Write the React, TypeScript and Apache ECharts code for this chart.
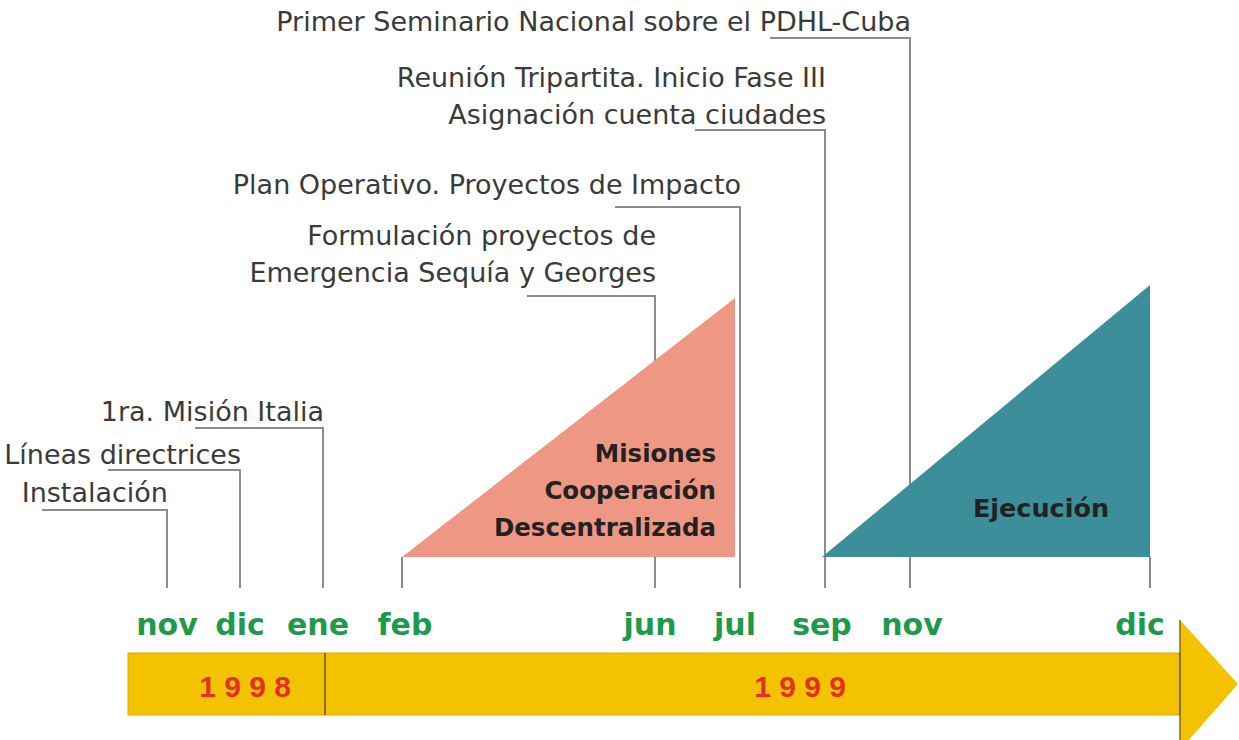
import React, { useEffect, useRef } from "react";
import * as echarts from "echarts";

// ---- timeline months (position on the schematic time scale) ----
const monthLabels = ["nov", "dic", "ene", "feb", "jun", "jul", "sep", "nov", "dic"];
const monthPos = [167, 240, 323, 402, 655, 740, 825, 910, 1150];
const monthLabelPos = [167, 240, 318, 405, 650, 735, 822, 912, 1140];
const monthLabelY = 624;
const tickBottom = 588;

// ---- years band ----
const yearLabels = ["1 9 9 8", "1 9 9 9"];
const yearStart = [128, 325];
const yearEnd = [325, 1180];
const yearLabelPos = [245, 800];
const yearLabelY = 686;
const barTop = 653;
const barBottom = 715;
const arrowBase = [1180];
const arrowTop = 620;
const arrowBottom = 750;
const arrowTipX = 1238;
const arrowTipY = 684;

// ---- events (leader lines) ----
const eventTexts = [
  "Instalación",
  "Líneas directrices",
  "1ra. Misión Italia",
  "Formulación proyectos de\nEmergencia Sequía y Georges",
  "Plan Operativo. Proyectos de Impacto",
  "Reunión Tripartita. Inicio Fase III\nAsignación cuenta ciudades",
  "Primer Seminario Nacional sobre el PDHL-Cuba",
];
const eventMonthIdx = [0, 1, 2, 4, 5, 6, 7];
const eventLevel = [510, 470, 428, 296, 207, 130, 38];
const eventUnderlineStart = [42, 108, 195, 527, 615, 695, 770];
const eventTextY = [493, 455, 412, 273, 185, 115, 22];

// ---- phases (triangles) ----
const phaseTexts = ["Misiones\nCooperación\nDescentralizada", "Ejecución"];
const phaseStart = [402, 822];
const phaseEnd = [735, 1150];
const phaseTop = [298, 285];
const phaseBase = 557;
const phaseTextX = [716, 1041];
const phaseTextY = [490, 508];
const phaseTextSize = [24.5, 25.5];
const phaseTextAlign = ["right", "center"];
const phaseColors = ["#EE9784", "#3D8E9B"];

const LINE = "#8c8c8c";
const FONT = '"DejaVu Sans", sans-serif';

export default function App() {
  const ref = useRef<HTMLDivElement>(null);

  useEffect(() => {
    document.body.style.margin = "0";
    if (!ref.current) return;
    const chart = echarts.init(ref.current, undefined, { renderer: "svg" });

    const tickTops = monthPos.map((_, i) => {
      const e = eventMonthIdx.indexOf(i);
      return e >= 0 ? eventLevel[e] : phaseBase;
    });

    const option: any = {
      animation: false,
      backgroundColor: "#ffffff",
      grid: { left: 0, right: 0, top: 0, bottom: 0 },
      xAxis: { type: "value", min: 0, max: 1239, show: false },
      yAxis: { type: "value", min: 0, max: 740, inverse: true, show: false },
      series: [
        // month tick / leader lines
        {
          type: "custom",
          clip: false,
          z: 1,
          data: monthPos.map((x, i) => [x, tickTops[i]]),
          renderItem: (params: any, api: any) => {
            const i = params.dataIndex;
            const x = monthPos[i];
            const e = eventMonthIdx.indexOf(i);
            const pts: number[][] = [];
            if (e >= 0) pts.push(api.coord([eventUnderlineStart[e], eventLevel[e]]));
            pts.push(api.coord([x, tickTops[i]]));
            pts.push(api.coord([x, tickBottom]));
            return {
              type: "polyline",
              shape: { points: pts },
              style: { stroke: LINE, lineWidth: 2, fill: null },
            };
          },
        },
        // phases triangles
        {
          type: "custom",
          clip: false,
          z: 2,
          data: phaseStart.map((s, i) => [s, phaseTop[i]]),
          renderItem: (params: any, api: any) => {
            const i = params.dataIndex;
            const a = api.coord([phaseStart[i], phaseBase]);
            const b = api.coord([phaseEnd[i], phaseTop[i]]);
            const c = api.coord([phaseEnd[i], phaseBase]);
            const t = api.coord([phaseTextX[i], phaseTextY[i]]);
            return {
              type: "group",
              children: [
                {
                  type: "polygon",
                  shape: { points: [a, b, c] },
                  style: { fill: phaseColors[i] },
                },
                {
                  type: "text",
                  x: t[0],
                  y: t[1],
                  style: {
                    text: phaseTexts[i],
                    fill: "#222222",
                    fontFamily: FONT,
                    fontWeight: "bold",
                    fontSize: phaseTextSize[i],
                    lineHeight: 37,
                    align: phaseTextAlign[i],
                    verticalAlign: "middle",
                  },
                },
              ],
            };
          },
        },
        // event labels
        {
          type: "custom",
          clip: false,
          z: 3,
          data: eventTexts.map((_, i) => [monthPos[eventMonthIdx[i]], eventTextY[i]]),
          renderItem: (params: any, api: any) => {
            const i = params.dataIndex;
            const p = api.coord([monthPos[eventMonthIdx[i]] + 1, eventTextY[i] + 18]);
            return {
              type: "text",
              x: p[0],
              y: p[1],
              style: {
                text: eventTexts[i],
                fill: "#3a3a3a",
                fontFamily: FONT,
                fontSize: 27,
                lineHeight: 37,
                align: "right",
                verticalAlign: "bottom",
              },
            };
          },
        },
        // year band
        {
          type: "custom",
          clip: false,
          z: 1,
          data: yearStart.map((s, i) => [s, yearEnd[i]]),
          renderItem: (params: any, api: any) => {
            const i = params.dataIndex;
            const tl = api.coord([yearStart[i], barTop]);
            const br = api.coord([yearEnd[i], barBottom]);
            return {
              type: "rect",
              shape: { x: tl[0], y: tl[1], width: br[0] - tl[0], height: br[1] - tl[1] },
              style: { fill: "#F4C300", stroke: "#D9AA00", lineWidth: 1 },
            };
          },
        },
        // year dividers and labels
        {
          type: "custom",
          clip: false,
          z: 3,
          data: yearStart.map((s, i) => [yearLabelPos[i], yearLabelY]),
          renderItem: (params: any, api: any) => {
            const i = params.dataIndex;
            const tl = api.coord([yearStart[i], barTop]);
            const br = api.coord([yearEnd[i], barBottom]);
            const lbl = api.coord([yearLabelPos[i], yearLabelY]);
            return {
              type: "group",
              children: [
                {
                  type: "line",
                  shape: { x1: br[0], y1: tl[1], x2: br[0], y2: br[1] },
                  style: { stroke: "#8B6A14", lineWidth: 2 },
                },
                {
                  type: "text",
                  x: lbl[0],
                  y: lbl[1],
                  style: {
                    text: yearLabels[i],
                    fill: "#E5302A",
                    fontFamily: '"Liberation Sans", sans-serif',
                    fontWeight: "bold",
                    fontSize: 30,
                    align: "center",
                    verticalAlign: "middle",
                  },
                },
              ],
            };
          },
        },
        // arrow head
        {
          type: "custom",
          clip: false,
          z: 2,
          data: arrowBase.map((x) => [x, arrowTipY]),
          renderItem: (params: any, api: any) => {
            const x = arrowBase[params.dataIndex];
            const a = api.coord([x, arrowTop]);
            const b = api.coord([arrowTipX, arrowTipY]);
            const c = api.coord([x, arrowBottom]);
            return {
              type: "group",
              children: [
                { type: "polygon", shape: { points: [a, b, c] }, style: { fill: "#F4C300" } },
                {
                  type: "line",
                  shape: { x1: a[0], y1: a[1], x2: c[0], y2: c[1] },
                  style: { stroke: "#8B6A14", lineWidth: 1.5 },
                },
              ],
            };
          },
        },
        // month labels
        {
          type: "custom",
          clip: false,
          z: 3,
          data: monthLabels.map((_, i) => [monthLabelPos[i], monthLabelY]),
          renderItem: (params: any, api: any) => {
            const i = params.dataIndex;
            const p = api.coord([monthLabelPos[i], monthLabelY]);
            return {
              type: "text",
              x: p[0],
              y: p[1],
              style: {
                text: monthLabels[i],
                fill: "#1F9A4C",
                fontFamily: FONT,
                fontWeight: "bold",
                fontSize: 30,
                align: "center",
                verticalAlign: "middle",
              },
            };
          },
        },
      ],
    };

    chart.setOption(option);
    return () => chart.dispose();
  }, []);

  return <div ref={ref} style={{ width: 1239, height: 740 }} />;
}
